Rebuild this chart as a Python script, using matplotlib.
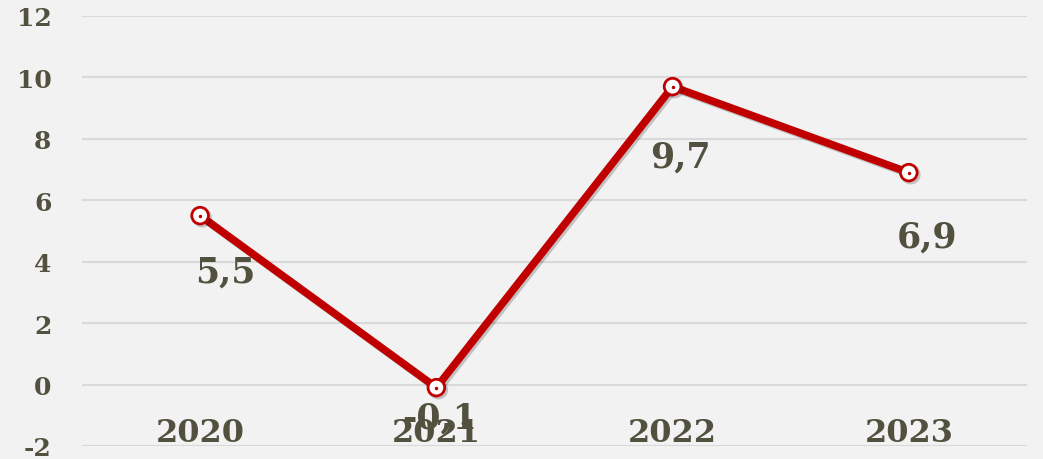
import matplotlib
matplotlib.use("Agg")
import matplotlib.pyplot as plt
import matplotlib.patheffects as pe

# dados
anos = ["2020", "2021", "2022", "2023"]
valores = [5.5, -0.1, 9.7, 6.9]
rotulos = ["5,5", "-0,1", "9,7", "6,9"]
yticks = [-2, 0, 2, 4, 6, 8, 10, 12]

# deslocamento dos rotulos (pixels)
desloc = [(25, -56), (3, -30), (8, -70), (18, -64)]

cor_texto = "#52503f"
cor_linha = "#c00000"
fundo = "#f2f2f2"
fonte = "DejaVu Serif"

fig = plt.figure(figsize=(10.43, 4.6), dpi=100, facecolor=fundo)
ax = fig.add_axes([0.0786, 0.0283, 0.906, 0.9348], facecolor=fundo)

x = list(range(len(anos)))
ax.plot(x, valores, color=cor_linha, lw=5.5, solid_capstyle="round", zorder=3,
        marker="o", ms=12, mfc="white", mec=cor_linha, mew=2,
        path_effects=[pe.SimpleLineShadow(offset=(1.5, -1.5), alpha=0.2), pe.Normal()])
ax.plot(x, valores, ls="none", marker="o", ms=1.5, color=cor_linha, zorder=4)

for i, (v, r) in enumerate(zip(valores, rotulos)):
    ax.annotate(r, (i, v), xytext=desloc[i], textcoords="offset pixels",
                ha="center", va="center", fontsize=25, fontweight="bold",
                family=fonte, color=cor_texto, zorder=5)

for i, a in enumerate(anos):
    ax.text(i, -1.55, a, ha="center", va="center", fontsize=23, fontweight="bold",
            family=fonte, color=cor_texto, zorder=2)

ax.set_xlim(-0.5, len(anos) - 0.5)
ax.set_ylim(-2, 12)
ax.set_yticks(yticks)
ax.set_yticklabels([str(t) for t in yticks], fontsize=18, fontweight="bold",
                   family=fonte, color=cor_texto)
ax.set_xticks([])
ax.tick_params(axis="y", length=0, pad=22)
ax.grid(axis="y", color="#d9d9d9", lw=1.5, zorder=0)
for s in ax.spines.values():
    s.set_visible(False)

fig.savefig("out.png", dpi=100, facecolor=fundo)
